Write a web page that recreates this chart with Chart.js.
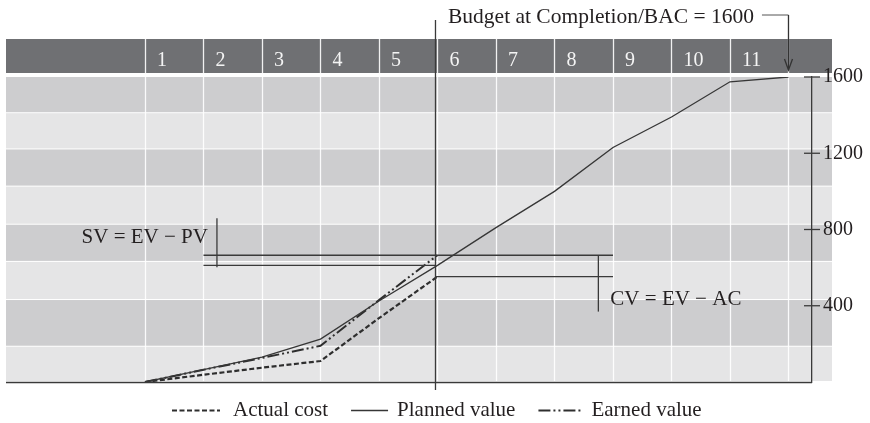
<!DOCTYPE html>
<html>
<head>
<meta charset="utf-8">
<title>Earned value</title>
<script src="https://cdn.jsdelivr.net/npm/chart.js@4.4.1/dist/chart.umd.min.js"></script>
<style>
  html, body { margin: 0; padding: 0; background: #fff; }
  canvas { display: block; }
</style>
</head>
<body>
<canvas id="evChart" width="870" height="423"></canvas>
<script>
// period boundaries along the time axis
const periods = [0, 1, 2, 3, 4, 5, 6, 7, 8, 9, 10, 11];
const periodLabels = ['1', '2', '3', '4', '5', '6', '7', '8', '9', '10', '11'];

// cumulative values per period
const plannedValue = [0, 65, 130, 225, 425, 612, 810, 1000, 1230, 1390, 1575, 1600];
const actualCost = [0, 38, 75, 110, 335, 553];
const earnedValue = [0, 64, 126, 190, 430, 665];

const yTicks = [400, 800, 1200, 1600];
const bac = 1600;
const statusPeriod = 5;

const SERIF = "'Liberation Serif', 'DejaVu Serif', serif";
const INK = '#231f20';

const toPoints = vals => vals.map((v, i) => ({ x: periods[i], y: v }));

// alternating horizontal bands behind the plot (value edges)
const bandEdges = [0, 185, 430, 630, 825, 1025, 1220, 1410, 1600];

const backdrop = {
    id: 'backdrop',
    beforeDraw(chart) {
        const { ctx, chartArea: a, scales: { x, y } } = chart;
        const left = a.left, right = a.right + 20;
        ctx.save();
        ctx.fillStyle = '#fff';
        ctx.fillRect(0, 0, chart.width, chart.height);

        // header strip with period numbers
        ctx.fillStyle = '#6f7073';
        ctx.fillRect(left, 39, right - left, 34);

        for (let i = 0; i < bandEdges.length - 1; i++) {
            const top = y.getPixelForValue(bandEdges[i + 1]);
            const bot = y.getPixelForValue(bandEdges[i]);
            ctx.fillStyle = (bandEdges.length - 2 - i) % 2 === 0 ? '#cdcdcf' : '#e5e5e6';
            ctx.fillRect(left, top, right - left, bot - top - 1);
        }

        // column separators
        ctx.strokeStyle = 'rgba(255,255,255,0.9)';
        ctx.lineWidth = 1.3;
        periods.forEach(p => {
            const px = Math.round(x.getPixelForValue(p)) + 0.5;
            ctx.beginPath();
            ctx.moveTo(px, 39);
            ctx.lineTo(px, a.bottom);
            ctx.stroke();
        });

        ctx.fillStyle = '#f4f4f4';
        ctx.font = '20px ' + SERIF;
        ctx.textAlign = 'left';
        ctx.textBaseline = 'alphabetic';
        periodLabels.forEach((lbl, i) => {
            ctx.fillText(lbl, x.getPixelForValue(periods[i]) + 12, 66);
        });
        ctx.restore();
    }
};

function line(ctx, x1, y1, x2, y2) {
    ctx.beginPath();
    ctx.moveTo(x1, y1);
    ctx.lineTo(x2, y2);
    ctx.stroke();
}

const annotations = {
    id: 'annotations',
    afterDatasetsDraw(chart) {
        const { ctx, chartArea: a, scales: { x, y } } = chart;
        const X = v => x.getPixelForValue(v);
        const Y = v => y.getPixelForValue(v);
        ctx.save();
        ctx.strokeStyle = '#3a3a3a';
        ctx.lineWidth = 1.3;

        // bottom axis line
        line(ctx, a.left, a.bottom + 0.5, a.right, a.bottom + 0.5);

        // tick marks crossing the value axis
        yTicks.forEach(v => line(ctx, a.right - 8, Y(v), a.right + 8, Y(v)));

        const xs = X(statusPeriod) - 2;
        const yEV = Y(earnedValue[statusPeriod]);
        const yPV = Y(plannedValue[statusPeriod]);
        const yAC = Y(actualCost[statusPeriod]);

        // status date
        line(ctx, xs, 20, xs, 390);

        // schedule variance
        line(ctx, X(1), yEV, X(8), yEV);
        line(ctx, X(1), yPV, xs, yPV);
        const xSV = X(1.23);
        line(ctx, xSV, yEV - 37, xSV, yPV + 2);

        // cost variance
        line(ctx, xs, yAC, X(8), yAC);
        const xCV = X(7.75);
        line(ctx, xCV, yEV, xCV, yAC + 35);

        ctx.fillStyle = INK;
        ctx.font = '21px ' + SERIF;
        ctx.textBaseline = 'alphabetic';
        ctx.textAlign = 'right';
        ctx.fillText('SV = EV \u2212 PV', xSV - 9, yEV - 12);
        ctx.textAlign = 'left';
        ctx.fillText('CV = EV \u2212 AC', xCV + 12, yAC + 28);

        // budget at completion callout
        const title = 'Budget at Completion/BAC = ' + bac;
        ctx.font = '21.5px ' + SERIF;
        ctx.fillText(title, 448, 23);
        const tEnd = 448 + ctx.measureText(title).width;
        const xb = X(periods[periods.length - 1]);
        ctx.lineWidth = 1;
        ctx.strokeStyle = '#555';
        line(ctx, tEnd + 8, 15, xb, 15);
        ctx.strokeStyle = '#333';
        ctx.lineWidth = 1.3;
        line(ctx, xb, 15, xb, 70);
        ctx.beginPath();
        ctx.moveTo(xb - 4, 59);
        ctx.lineTo(xb, 70);
        ctx.lineTo(xb + 4, 59);
        ctx.stroke();
        ctx.restore();
    }
};

// legend below the plot, line samples keep each dataset's dash
const bottomLegend = {
    id: 'bottomLegend',
    afterDraw(chart) {
        const { ctx } = chart;
        const order = [1, 0, 2];
        const sampleWidths = [48, 37, 43];
        const textGaps = [13, 9, 10];
        let cx = 172;
        ctx.save();
        ctx.font = '21px ' + SERIF;
        ctx.textBaseline = 'alphabetic';
        ctx.textAlign = 'left';
        order.forEach((di, k) => {
            const ds = chart.data.datasets[di];
            ctx.strokeStyle = ds.borderColor;
            ctx.lineWidth = ds.borderWidth;
            ctx.setLineDash(ds.borderDash || []);
            line(ctx, cx, 410.5, cx + sampleWidths[k], 410.5);
            ctx.setLineDash([]);
            cx += sampleWidths[k] + textGaps[k];
            ctx.fillStyle = INK;
            ctx.fillText(ds.label, cx, 416);
            cx += ctx.measureText(ds.label).width + 23;
        });
        ctx.restore();
    }
};

const ctx = document.getElementById('evChart').getContext('2d');
const evChart = new Chart(ctx, {
    type: 'line',
    data: {
        datasets: [
            {
                label: 'Planned value',
                data: toPoints(plannedValue),
                borderColor: '#363636',
                borderWidth: 1.3
            },
            {
                label: 'Actual cost',
                data: toPoints(actualCost),
                borderColor: '#2e2e2e',
                borderWidth: 2.2,
                borderDash: [5, 2.5]
            },
            {
                label: 'Earned value',
                data: toPoints(earnedValue),
                borderColor: '#2e2e2e',
                borderWidth: 2,
                borderDash: [12, 3, 2, 3, 2, 3]
            }
        ]
    },
    options: {
        responsive: false,
        animation: false,
        devicePixelRatio: 1,
        layout: { padding: { top: 77, left: 6, bottom: 41, right: 0 } },
        elements: {
            line: { tension: 0, fill: false },
            point: { radius: 0, hoverRadius: 0 }
        },
        plugins: {
            legend: { display: false },
            tooltip: { enabled: false }
        },
        scales: {
            x: {
                type: 'linear',
                display: false,
                min: -2.376,
                max: 11.402
            },
            y: {
                position: 'right',
                min: 0,
                max: 1600,
                afterFit: s => { s.width = 58; },
                afterBuildTicks: s => { s.ticks = yTicks.map(v => ({ value: v })); },
                grid: { display: false, drawTicks: false },
                border: { display: true, color: '#3a3a3a', width: 1.3 },
                ticks: {
                    padding: 11,
                    color: INK,
                    font: { family: SERIF, size: 20 },
                    callback: v => String(v)
                }
            }
        }
    },
    plugins: [backdrop, annotations, bottomLegend]
});
</script>
</body>
</html>
